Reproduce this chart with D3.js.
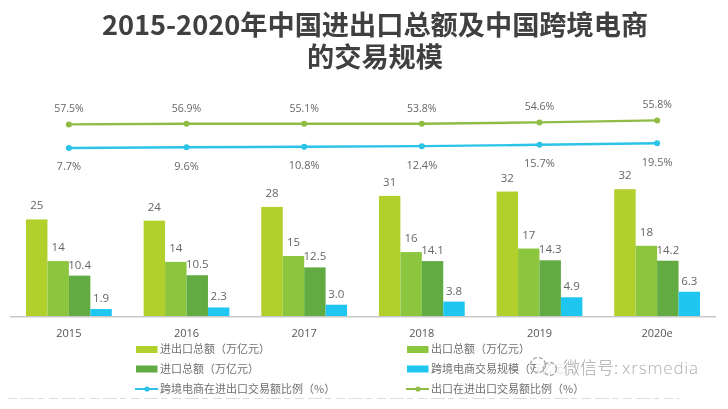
<!DOCTYPE html>
<html><head><meta charset="utf-8">
<script src="https://cdn.jsdelivr.net/npm/d3@7"></script>
<style>
html,body{margin:0;padding:0;background:#fff}
svg{display:block;filter:blur(0.45px)}
text{font-family:"Open Sans","Noto Sans CJK SC",sans-serif}
.cjk{font-family:"Noto Sans CJK SC",sans-serif}
</style></head><body>
<svg id="c" width="728" height="409"></svg>
<script>
const years = ["2015","2016","2017","2018","2019","2020e"];
const titleLines = ["2015-2020年中国进出口总额及中国跨境电商","的交易规模"];
const totalTrade = [24.7,24.4,27.9,30.7,31.8,32.4];
const exportsTrade = [14.1,13.9,15.4,16.4,17.3,18.0];
const importsTrade = [10.4,10.5,12.5,14.1,14.3,14.2];
const crossBorder = [1.9,2.3,3.0,3.8,4.9,6.3];
const crossBorderShare = [7.7,9.6,10.8,12.4,15.7,19.5];
const exportShareLabels = [57.5,56.9,55.1,53.8,54.6,55.8];
// where the green line is actually drawn in the picture, on the same share axis
const exportSharePlotted = [67,68.5,68.5,68.5,72,77];
const legendNames = ["进出口总额（万亿元）","出口总额（万亿元）","进口总额（万亿元）","跨境电商交易规模（万亿元）","跨境电商在进出口交易额比例（%）","出口在进出口交易额比例（%）"];
const barColors = ["#b1d02c","#8cc63e","#62ab42","#1fc6f0"];
const lineBlue = "#2cc3e8", lineGreen = "#8fbc44";

const svg = d3.select("#c");
const x = d3.scaleBand().domain(years).range([26,700]).paddingInner(0.271).paddingOuter(0);
const series = [totalTrade,exportsTrade,importsTrade,crossBorder];
const xs = d3.scaleBand().domain(d3.range(4)).range([0,x.bandwidth()]);
const y = d3.scaleLinear().domain([0,32.4]).range([316.5,189.2]);
const yShare = d3.scaleLinear().domain([7.7,19.5]).range([148,143.3]);
const labelGap = [10,10,7,7];
const labelFmt = [d3.format(".0f"),d3.format(".0f"),d3.format(".1f"),d3.format(".1f")];
const grey = "#666";

svg.append("g").selectAll("text").data(titleLines).join("text")
  .attr("class","cjk").attr("x",375).attr("y",(d,i)=>35+i*32)
  .attr("text-anchor","middle").attr("font-size",27.2).attr("font-weight",700).attr("fill","#404040")
  .text(d=>d);

series.forEach((vals,s)=>{
  const g = svg.append("g");
  g.selectAll("rect").data(vals).join("rect")
    .attr("x",(d,i)=>x(years[i])+xs(s)).attr("width",xs.bandwidth())
    .attr("y",d=>y(d)).attr("height",d=>y(0)-y(d)).attr("fill",barColors[s]);
  g.selectAll("text").data(vals).join("text")
    .attr("x",(d,i)=>x(years[i])+xs(s)+xs.bandwidth()/2)
    .attr("y",d=>y(d)-labelGap[s]).attr("text-anchor","middle")
    .attr("font-size",11.5).attr("fill",grey).text(d=>labelFmt[s](d));
});
svg.append("line").attr("x1",10).attr("x2",716).attr("y1",316.8).attr("y2",316.8).attr("stroke","#c9c9c9").attr("stroke-width",1.5);

const cx = i=>x(years[i])+x.bandwidth()/2;
const line = d3.line().x((d,i)=>cx(i)).y(d=>yShare(d));
[[exportSharePlotted,lineGreen],[crossBorderShare,lineBlue]].forEach(([vals,col])=>{
  const g = svg.append("g");
  g.append("path").attr("d",line(vals)).attr("fill","none").attr("stroke",col).attr("stroke-width",2.4);
  g.selectAll("circle").data(vals).join("circle").attr("cx",(d,i)=>cx(i)).attr("cy",d=>yShare(d)).attr("r",3).attr("fill",col);
});
svg.append("g").selectAll("text").data(exportShareLabels).join("text")
  .attr("x",(d,i)=>cx(i)).attr("y",(d,i)=>yShare(exportSharePlotted[i])-12)
  .attr("text-anchor","middle").attr("font-size",10.5).attr("fill",grey).text(d=>d.toFixed(1)+"%");
svg.append("g").selectAll("text").data(crossBorderShare).join("text")
  .attr("x",(d,i)=>cx(i)).attr("y",d=>yShare(d)+22.4)
  .attr("text-anchor","middle").attr("font-size",11).attr("fill",grey).text(d=>d.toFixed(1)+"%");

svg.append("g").selectAll("text").data(years).join("text")
  .attr("x",d=>x(d)+x.bandwidth()/2).attr("y",336.5).attr("text-anchor","middle")
  .attr("font-size",11).attr("fill","#555").text(d=>d);

const legX = [136,407], legY = [349.5,369,389];
const leg = svg.append("g").selectAll("g").data(legendNames).join("g")
  .attr("transform",(d,i)=>`translate(${legX[i%2]},${legY[Math.floor(i/2)]})`);
leg.each(function(d,i){
  const g = d3.select(this);
  if(i<4){
    g.append("rect").attr("x",0).attr("y",-3.5).attr("width",21.5).attr("height",7).attr("fill",barColors[i]);
  } else {
    const c = i===4?lineBlue:lineGreen;
    g.append("line").attr("x1",-1).attr("x2",22).attr("stroke",c).attr("stroke-width",2);
    g.append("circle").attr("cx",11).attr("r",2.6).attr("fill",c);
  }
  g.append("text").attr("class","cjk").attr("x",24).attr("y",3.8).attr("font-size",11).attr("fill","#707070").text(d);
});

// faint cut-off strip along the bottom edge of the source image
svg.append("line").attr("x1",8).attr("x2",680).attr("y1",398.5).attr("y2",398.5)
  .attr("stroke","#ddd").attr("stroke-width",1).attr("stroke-dasharray","9 4 14 3 6 5");

// watermark
const wm = svg.append("g");
wm.append("rect").attr("x",536).attr("y",356).attr("width",168).attr("height",24).attr("fill","#fff").attr("opacity",.8);
wm.append("circle").attr("cx",538).attr("cy",365).attr("r",7.5).attr("fill","none").attr("stroke","#a5a5a5").attr("stroke-width",1.3).attr("stroke-dasharray","4 2");
wm.append("circle").attr("cx",550).attr("cy",369).attr("r",6.5).attr("fill","none").attr("stroke","#a5a5a5").attr("stroke-width",1.3).attr("stroke-dasharray","4 2");
wm.append("text").attr("class","cjk").attr("x",563).attr("y",374).attr("font-size",17).attr("fill","#a8a8a8").attr("font-weight",300).text("微信号:");
wm.append("text").attr("x",622).attr("y",374).attr("font-size",17).attr("fill","#b0b0b0").attr("font-weight",300).attr("textLength",76).text("xrsmedia");
</script></body></html>
